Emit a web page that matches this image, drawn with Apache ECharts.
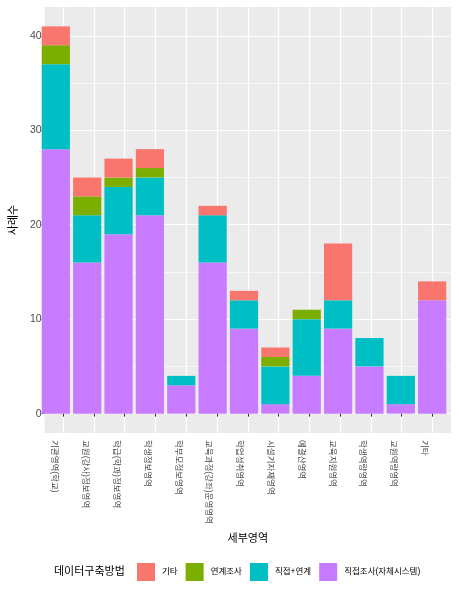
<!DOCTYPE html>
<html><head><meta charset="utf-8">
<script src="https://cdn.jsdelivr.net/npm/echarts@6/dist/echarts.min.js"></script>
<style>html,body{margin:0;padding:0;background:#fff}#c{width:459px;height:593px}</style>
</head><body><div id="c"></div>
<script>
const categories = ['기관영역(학교)','교원(강사)정보영역','학급(학과)정보영역','학생정보영역','학부모정보영역','교육과정(강좌)운영영역','학업성취영역','시설기자재영역','예결산영역','교육지원영역','학생역량영역','교원역량영역','기타'];
const seriesNames = ['직접조사(자체시스템)','직접+연계','연계조사','기타'];
const direct       = [28,16,19,21,3,16,9,1,4,9,5,1,12];
const directLinked = [9,5,5,4,1,5,3,4,6,3,3,3,0];
const linked       = [2,2,1,1,0,0,0,1,1,0,0,0,0];
const other        = [2,2,2,2,0,1,1,1,0,6,0,0,2];
const yTicks = [0,10,20,30,40];
const yMinorTicks = [5,15,25,35];
const legendOrder = ['기타','연계조사','직접+연계','직접조사(자체시스템)'];
const colors = ['#C77CFF','#00BFC4','#7CAE00','#F8766D'];

const FONT = "'Liberation Sans', 'Noto Sans CJK KR', sans-serif";
const xPos = categories.map((c, i) => i + 1);
const values = [direct, directLinked, linked, other];

// panel geometry (ggplot discrete expansion of 0.6 units on each side)
const P = {left: 37, right: 8, top: 7, bottom: 160};
const panelW = 459 - P.left - P.right;
const unit = panelW / (categories.length + 0.2);
const pad = unit * 0.1;

const chart = echarts.init(document.getElementById('c'), null, {renderer: 'canvas'});
chart.setOption({
  animation: false,
  backgroundColor: '#FFFFFF',
  textStyle: {fontFamily: FONT},
  title: {
    text: '데이터구축방법', left: 54, top: 566, padding: 0,
    textStyle: {fontSize: 11, fontWeight: 'normal', color: '#000', fontFamily: FONT}
  },
  legend: {
    data: legendOrder, left: 137, top: 563, padding: 0, itemWidth: 18, itemHeight: 18, itemGap: 8,
    icon: 'rect',
    textStyle: {fontSize: 8.5, color: '#000', fontFamily: FONT, padding: [0,0,0,2]}
  },
  grid: [{
    left: P.left, right: P.right, top: P.top, bottom: P.bottom, show: true,
    backgroundColor: '#EBEBEB', borderWidth: 0, containLabel: false
  }, {
    left: P.left + pad, right: P.right + pad, top: P.top, bottom: P.bottom, show: false,
    containLabel: false
  }],
  xAxis: [{
    gridIndex: 0, type: 'value', min: 0.4, max: 13.6,
    name: '세부영역', nameLocation: 'middle', nameGap: 100,
    nameTextStyle: {fontSize: 11, color: '#000', fontFamily: FONT},
    axisLine: {show: false},
    axisTick: {show: true, length: 3, customValues: xPos, lineStyle: {color: '#333', width: 1}},
    axisLabel: {
      customValues: xPos, rotate: -90, fontSize: 8.5, color: '#4D4D4D', margin: 7,
      verticalAlign: 'top', align: 'left', fontFamily: FONT, padding: [4,0,0,0],
      formatter: v => categories[Math.round(v) - 1] || ''
    },
    splitLine: {show: true, lineStyle: {color: '#FFFFFF', width: 1.2}}
  }, {
    gridIndex: 1, type: 'category', data: categories, boundaryGap: true,
    axisLine: {show: false}, axisTick: {show: false}, axisLabel: {show: false}, splitLine: {show: false}
  }],
  yAxis: [{
    gridIndex: 0, type: 'value', min: -2.05, max: 43.05,
    name: '사례수', nameLocation: 'middle', nameGap: 24, nameRotate: 90,
    nameTextStyle: {fontSize: 11, color: '#000', fontFamily: FONT},
    axisLine: {show: false},
    axisTick: {show: true, length: 3, customValues: yTicks, lineStyle: {color: '#333', width: 1}},
    axisLabel: {customValues: yTicks, fontSize: 10.5, color: '#4D4D4D', margin: 3, fontFamily: FONT},
    splitLine: {show: true, lineStyle: {color: '#FFFFFF', width: 1.2}}
  }, {
    gridIndex: 0, type: 'value', min: -2.05, max: 43.05, position: 'left',
    axisLine: {show: false},
    axisTick: {show: false, customValues: yMinorTicks},
    axisLabel: {show: false, customValues: yMinorTicks},
    splitLine: {show: true, lineStyle: {color: '#FFFFFF', width: 0.6}}
  }, {
    gridIndex: 1, type: 'value', min: -2.05, max: 43.05,
    axisLine: {show: false}, axisTick: {show: false}, axisLabel: {show: false}, splitLine: {show: false}
  }],
  series: seriesNames.map((name, k) => ({
    name, type: 'bar', stack: 'total', xAxisIndex: 1, yAxisIndex: 2, barWidth: '90%',
    itemStyle: {color: colors[k]},
    data: values[k]
  }))
});
</script></body></html>
